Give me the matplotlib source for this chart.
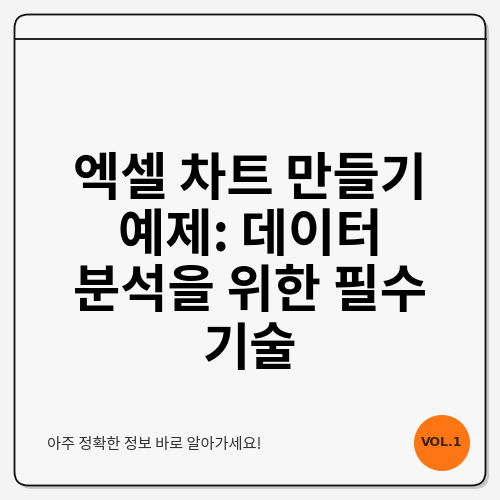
import matplotlib
matplotlib.use('Agg')
from matplotlib import pyplot as plt
from matplotlib.patches import FancyBboxPatch, Circle

plt.rcParams['font.family'] = ['Noto Sans CJK KR', 'DejaVu Sans']

title_lines = ['엑셀 차트 만들기', '예제: 데이터', '분석을 위한 필수', '기술']
title_y = [180, 235, 292, 349]
footer_text = '아주 정확한 정보 바로 알아가세요!'
badge_text = 'VOL.1'

fig = plt.figure(figsize=(5, 5), dpi=100)
fig.patch.set_facecolor('#f4f4f4')
ax = fig.add_axes([0, 0, 1, 1])
ax.set_xlim(0, 500)
ax.set_ylim(500, 0)
ax.axis('off')

# shadow then card
shadow = FancyBboxPatch((18, 18), 471, 471, boxstyle='round,pad=0,rounding_size=14',
                        fc='#c9c9c9', ec='none', zorder=1)
ax.add_patch(shadow)
card = FancyBboxPatch((14.5, 14.5), 471, 471, boxstyle='round,pad=0,rounding_size=14',
                      fc='#f8f7f7', ec='#111111', lw=1.3, zorder=2)
ax.add_patch(card)
ax.plot([14.5, 485.5], [38.5, 38.5], color='#111111', lw=1.3, zorder=3)

for line, y in zip(title_lines, title_y):
    ax.text(250, y, line, ha='center', va='center', fontsize=37,
            fontweight='black', color='#000000', zorder=4)

ax.text(47, 444, footer_text, ha='left', va='center', fontsize=11,
        color='#333333', zorder=4)

ax.add_patch(Circle((442, 443), 28, fc='#fd7613', ec='none', zorder=4))
ax.text(442, 443, badge_text, ha='center', va='center', fontsize=9,
        fontweight='bold', color='#3a2412', zorder=5, family='DejaVu Sans')

fig.savefig('out.png', dpi=100, facecolor=fig.get_facecolor())
